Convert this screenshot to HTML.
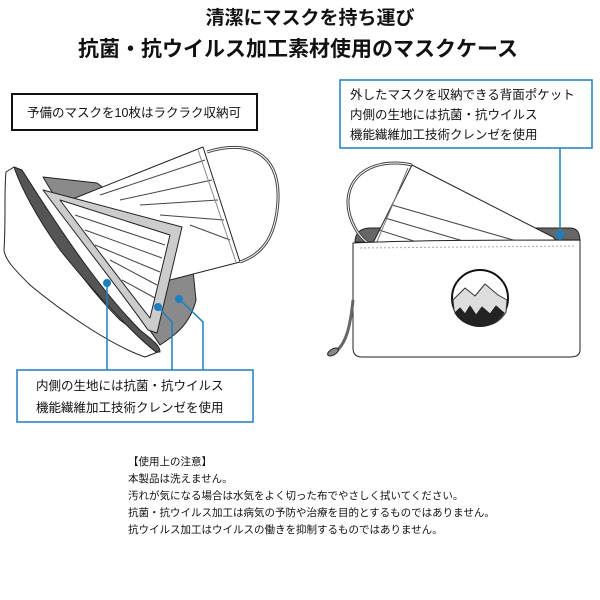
<!DOCTYPE html>
<html><head><meta charset="utf-8"><style>
html,body{margin:0;padding:0;background:#fff}
svg{display:block}
text{font-family:"Liberation Sans","Noto Sans CJK JP",sans-serif;fill:#111}
</style></head><body>
<svg width="600" height="600" viewBox="0 0 600 600" xmlns="http://www.w3.org/2000/svg">
<text x="310" y="24" font-size="19" font-weight="bold" text-anchor="middle">清潔にマスクを持ち運び</text>
<text x="298" y="56" font-size="21" font-weight="bold" text-anchor="middle">抗菌・抗ウイルス加工素材使用のマスクケース</text>

<rect x="12" y="94" width="245" height="36" fill="#fff" stroke="#111" stroke-width="2"/>
<text x="134" y="117" font-size="12.5" text-anchor="middle">予備のマスクを10枚はラクラク収納可</text>

<g stroke="#222" stroke-width="1" stroke-linejoin="round">
<path d="M6,172 L14,167 C40,220 80,280 120,320 C140,335 155,345 158,352 L145,357 C110,345 60,310 30,285 C15,270 5,260 4,250 C6,220 4,190 6,172Z" fill="#fff"/>
<path d="M43,177 L97,183 L160,230 L190,240 L196,300 C190,325 175,335 160,345 C130,300 80,240 43,177Z" fill="#8a8a8a"/>
<path d="M14,167 L22,170 C60,230 100,290 140,330 C152,340 160,345 160,352 L156,352 C140,340 100,300 60,250 C35,215 20,185 14,167Z" fill="#555"/>
<path d="M70,200 L203,147 L240,262 L170,280 Z" fill="#fff"/>
<path d="M207,152 C245,140 280,150 278,200 C276,240 260,255 240,262" fill="none" stroke="#444" stroke-width="3"/>
<path d="M207,152 C245,140 280,150 278,200 C276,240 260,255 240,262" fill="none" stroke="#fff" stroke-width="1"/>
<g stroke="#444"><line x1="100" y1="195" x2="205" y2="160"/><line x1="120" y1="200" x2="212" y2="180"/><line x1="140" y1="205" x2="218" y2="200"/><line x1="160" y1="215" x2="224" y2="220"/><line x1="190" y1="225" x2="230" y2="240"/></g>
<line x1="198" y1="150" x2="236" y2="262" stroke="#888"/>
<path d="M43,190 L182,227 L157,333 L148,330 C120,290 80,240 43,190Z" fill="#ccc"/>
<path d="M60,200 L170,235 L150,318 C120,280 90,240 60,200Z" fill="#fff"/>
<g stroke="#444"><line x1="75" y1="215" x2="165" y2="245"/><line x1="85" y1="230" x2="162" y2="258"/><line x1="95" y1="245" x2="160" y2="272"/><line x1="110" y1="260" x2="157" y2="285"/><line x1="122" y1="280" x2="155" y2="298"/></g>
</g>
<g fill="#1c7fc0"><circle cx="107" cy="283" r="4"/><circle cx="158" cy="307" r="4"/><circle cx="179" cy="299" r="4"/></g>
<g stroke="#1c7fc0" stroke-width="1.5" fill="none">
<path d="M107,283 V370"/><path d="M158,307 L172,322 V370"/><path d="M179,299 L203,322 V370"/>
</g>
<rect x="17" y="370" width="236" height="52" fill="#fff" stroke="#1c7fc0" stroke-width="1.5"/>
<text x="36" y="390" font-size="12.5">内側の生地には抗菌・抗ウイルス</text>
<text x="36" y="412" font-size="12.5">機能繊維加工技術クレンゼを使用</text>

<rect x="340" y="80" width="252" height="68" fill="#fff" stroke="#1c7fc0" stroke-width="1.5"/>
<text x="350" y="99" font-size="12.5">外したマスクを収納できる背面ポケット</text>
<text x="350" y="119" font-size="12.5">内側の生地には抗菌・抗ウイルス</text>
<text x="350" y="139" font-size="12.5">機能繊維加工技術クレンゼを使用</text>

<g stroke="#222" stroke-width="1" stroke-linejoin="round">
<path d="M355,242 C355,232 362,228 370,228 L570,228 C578,228 580,234 580,242 Z" fill="#666"/>
<path d="M412,165 C380,158 350,170 348,200 C347,220 360,240 372,245" fill="none" stroke="#444" stroke-width="3"/>
<path d="M412,165 C380,158 350,170 348,200 C347,220 360,240 372,245" fill="none" stroke="#fff" stroke-width="1"/>
<path d="M412,165 L553,237 L560,245 L372,245 Z" fill="#fff"/>
<g stroke="#444"><line x1="392" y1="205" x2="520" y2="242"/><line x1="385" y1="218" x2="470" y2="243"/><line x1="379" y1="230" x2="420" y2="243"/></g>
<line x1="408" y1="168" x2="376" y2="244" stroke="#777"/>
<path d="M353,243 C420,240 500,240 580,240 L580,350 C580,355 576,357 570,357 L362,357 C356,357 353,354 353,348 Z" fill="#fff"/>
<line x1="360" y1="248" x2="576" y2="246" stroke="#aaa" stroke-dasharray="2 2"/>
<path d="M353,300 C350,330 345,345 335,352" fill="none" stroke="#666" stroke-width="3"/>
<ellipse cx="333" cy="352" rx="6" ry="3" fill="#888" transform="rotate(-30 333 352)"/>
<circle cx="480" cy="298" r="28" fill="#fff" stroke="#111" stroke-width="2"/>
<path d="M453,300 L465,288 L475,296 L485,284 L498,295 L507,300 L506,312 C500,322 492,326 480,326 C468,326 458,320 454,310 Z" fill="#ddd" stroke="#333"/>
<path d="M455,313 L460,308 L465,314 L470,306 L476,315 L482,307 L490,314 L496,306 L504,313 C498,322 490,326 480,326 C468,326 460,321 455,313Z" fill="#222"/>
</g>
<line x1="560" y1="148" x2="560" y2="234" stroke="#1c7fc0" stroke-width="1.5"/>
<path d="M554,232 L566,232 L560,241 Z" fill="#1c7fc0"/>

<g font-size="10.5">
<text x="128" y="465">【使用上の注意】</text>
<text x="128" y="482">本製品は洗えません。</text>
<text x="128" y="499">汚れが気になる場合は水気をよく切った布でやさしく拭いてください。</text>
<text x="128" y="516">抗菌・抗ウイルス加工は病気の予防や治療を目的とするものではありません。</text>
<text x="128" y="533">抗ウイルス加工はウイルスの働きを抑制するものではありません。</text>
</g>
</svg>
</body></html>
